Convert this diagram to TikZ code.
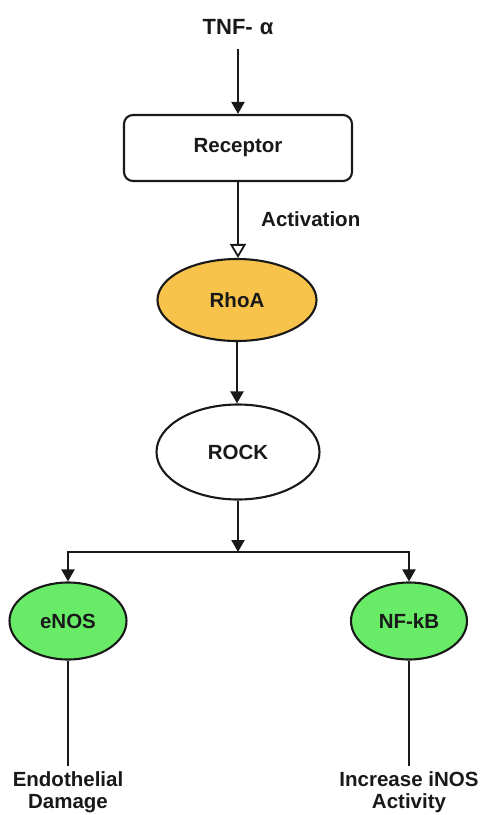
\documentclass[tikz,border=0pt]{standalone}
\usepackage{fontspec}
\setmainfont{Liberation Sans}
\usetikzlibrary{arrows.meta,shapes.geometric}
\definecolor{rhoafill}{RGB}{248,195,74}
\definecolor{greenfill}{RGB}{104,236,104}
\definecolor{linecol}{RGB}{25,25,25}
\begin{document}
\begin{tikzpicture}[x=1pt,y=-1pt,
  every node/.style={font=\fontsize{20.5}{25}\selectfont\bfseries, text=linecol},
  conn/.style={draw=linecol, line width=2.1pt},
  arr/.style={conn, -{Triangle[width=13pt,length=12pt]}},
  openarr/.style={conn, -{Triangle[open,width=16pt,length=14pt,line width=1.8pt]}},
  boxnode/.style={draw=linecol, line width=2.1pt, rounded corners=9pt, fill=white, minimum width=228pt, minimum height=66pt},
  ell/.style={ellipse, draw=linecol, line width=2.1pt, inner sep=0pt},
  lbl/.style={align=center, inner sep=0pt, outer sep=6pt, anchor=north, font=\fontsize{20.5}{22}\selectfont\bfseries}]
\useasboundingbox (0,0) rectangle (482,815);
\node[inner sep=0pt, outer sep=14pt, font=\fontsize{22}{25}\selectfont\bfseries] (tnf) at (238,27) {TNF-\hspace{7pt}α};
\node[boxnode] (rec) at (238,148) {Receptor};
\node[ell, fill=rhoafill, minimum width=159pt, minimum height=82pt] (rhoa) at (237,300) {RhoA};
\node[ell, fill=white, minimum width=163pt, minimum height=95pt] (rock) at (238,452) {ROCK};
\node[ell, fill=greenfill, minimum width=117pt, minimum height=77pt] (enos) at (68,621) {eNOS};
\node[ell, fill=greenfill, minimum width=116pt, minimum height=77pt] (nfkb) at (409,621) {NF-kB};
\node[anchor=west, inner sep=0pt] (act) at (261,219) {Activation};
\node[lbl] (endo) at (68,766) {Endothelial\\Damage};
\node[lbl] (inos) at (409,766) {Increase iNOS\\Activity};
\coordinate (br) at (238,552);
\draw[arr] (tnf.south) -- (rec.north);
\draw[openarr] (rec.south) -- (rec.south |- rhoa.north);
\draw[arr] (rhoa.south) -- (rhoa.south |- rock.north);
\draw[arr] (rock.south) -- (br);
\draw[arr] (br) -| (enos.north);
\draw[arr] (br) -| (nfkb.north);
\draw[conn] (enos.south) -- (endo.north);
\draw[conn] (nfkb.south) -- (inos.north);
\end{tikzpicture}
\end{document}
